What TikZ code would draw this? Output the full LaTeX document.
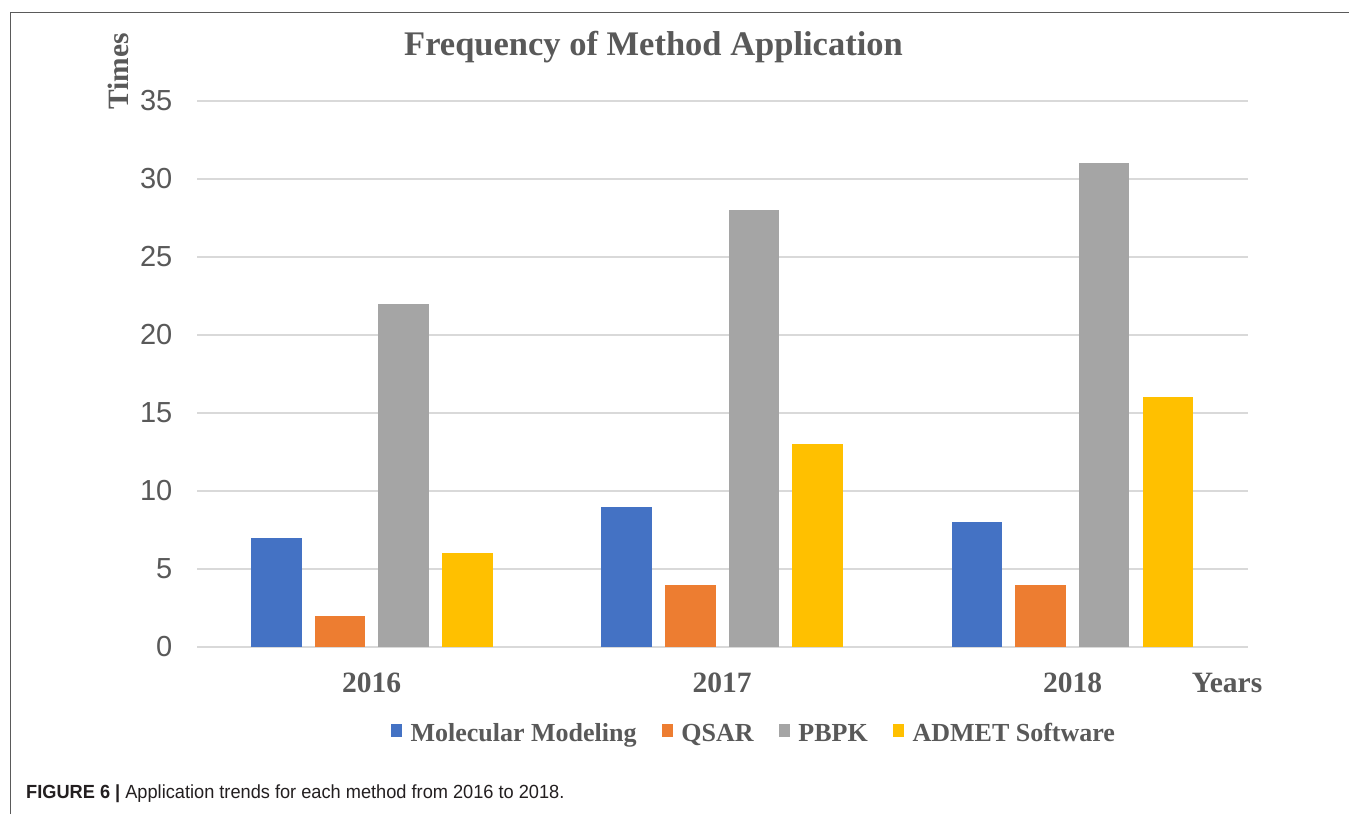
\documentclass[tikz,border=0pt]{standalone}
\usepackage{fontspec}
\usepackage{graphicx}
\setmainfont{Liberation Serif}
\newfontfamily\arialf{Liberation Sans}
\usetikzlibrary{calc}
\definecolor{txtgray}{HTML}{595959}
\definecolor{gridgray}{HTML}{D9D9D9}
\definecolor{frgray}{HTML}{5A5A5A}
\definecolor{cblue}{HTML}{4472C4}
\definecolor{corange}{HTML}{ED7D31}
\definecolor{cgray}{HTML}{A5A5A5}
\definecolor{cyellow}{HTML}{FFC000}
\definecolor{capblack}{HTML}{231F20}
\begin{document}
\begin{tikzpicture}[x=1pt,y=-1pt,
  titletxt/.style={inner sep=0, text=txtgray, font=\fontsize{34.5}{40}\selectfont\bfseries},
  axtxt/.style={inner sep=0, text=txtgray, font=\fontsize{29.5}{34}\selectfont\bfseries},
  ticktxt/.style={inner sep=0, text=txtgray, font=\arialf\fontsize{29}{34}\selectfont, anchor=east},
  legtxt/.style={inner sep=0, text=txtgray, font=\fontsize{26}{30}\selectfont\bfseries, anchor=base west},
  legsq/.style={inner sep=0, minimum width=11, minimum height=12.5, anchor=west},
  gridln/.style={gridgray, line width=1.5},
  frameln/.style={frgray, line width=1.6},
  captxt/.style={inner sep=0, anchor=base west, font=\arialf\fontsize{19}{23}\selectfont, text=capblack}
]
\useasboundingbox (0,0) rectangle (1349,814);
\fill[white] (0,0) rectangle (1349,814);
\draw[frameln] (10.5,814) -- (10.5,12.5) -- (1349,12.5);

% gridlines and tick labels
\foreach \v in {0,5,...,35} {
  \draw[gridln] (197,{647-15.6*\v}) -- (1248,{647-15.6*\v});
  \node[ticktxt] (tick\v) at (172.5,{647-15.6*\v}) {\v};
}

% bars
\foreach \g/\a/\b/\c/\d in {0/7/2/22/6, 1/9/4/28/13, 2/8/4/31/16} {
  \pgfmathsetmacro\xs{251+350.3*\g}
  \fill[cblue]   (\xs,647) rectangle ++(50.5,{-15.6*\a});
  \fill[corange] ({\xs+63.7},647) rectangle ++(50.5,{-15.6*\b});
  \fill[cgray]   ({\xs+127.3},647) rectangle ++(50.5,{-15.6*\c});
  \fill[cyellow] ({\xs+191},647) rectangle ++(50.5,{-15.6*\d});
}

% titles and axis labels
\node[titletxt, anchor=base] (title) at (653.5,55.5) {Frequency of Method Application};
\node[axtxt, rotate=90, anchor=base west] (times) at (128,110) {Times};
\node[axtxt, anchor=base] (y2016) at (371.5,692) {2016};
\node[axtxt, anchor=base] (y2017) at (722,692) {2017};
\node[axtxt, anchor=base] (y2018) at (1072.5,692) {2018};
\node[axtxt, anchor=base] (years) at (1227,692) {Years};

% legend
\node[legsq, fill=cblue] (s1) at (391,730.5) {};
\node[legtxt] (l1) at ($(s1.east)+(8,10.5)$) {Molecular Modeling};
\node[legsq, fill=corange] (s2) at ($(l1.base east)+(25,-10.5)$) {};
\node[legtxt] (l2) at ($(s2.east)+(8,10.5)$) {QSAR};
\node[legsq, fill=cgray] (s3) at ($(l2.base east)+(25,-10.5)$) {};
\node[legtxt] (l3) at ($(s3.east)+(8,10.5)$) {PBPK};
\node[legsq, fill=cyellow] (s4) at ($(l3.base east)+(25,-10.5)$) {};
\node[legtxt] (l4) at ($(s4.east)+(8,10.5)$) {ADMET Software};

% caption
\node[captxt] (cap) at (26,798) {\scalebox{0.958}[1]{\textbf{FIGURE 6 |} Application trends for each method from 2016 to 2018.}};
\end{tikzpicture}
\end{document}
